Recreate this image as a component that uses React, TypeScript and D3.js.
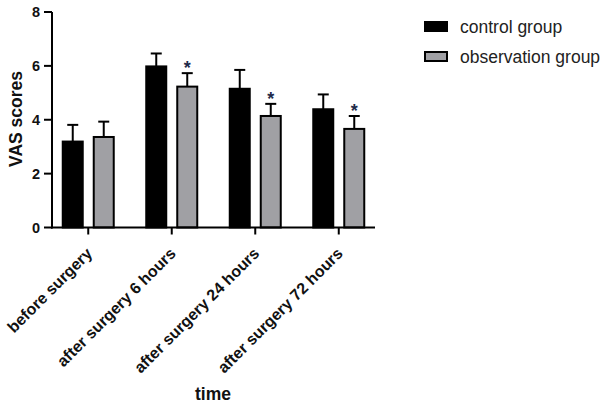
import React from "react";
import * as d3 from "d3";

const categories = ["before surgery", "after surgery 6 hours", "after surgery 24 hours", "after surgery 72 hours"];
const seriesNames = ["control group", "observation group"];
const controlMean = [3.19, 5.98, 5.15, 4.39];
const controlErr = [0.62, 0.48, 0.7, 0.55];
const obsMean = [3.36, 5.23, 4.14, 3.66];
const obsErr = [0.57, 0.5, 0.45, 0.48];
const significant = [false, true, true, true];
const yTicks = [0, 2, 4, 6, 8];

const W = 605, H = 407;
const FONT = "'Liberation Sans', Arial, sans-serif";

export default function App() {
  const x = d3.scalePoint<string>().domain(categories).range([52, 375]).padding(0.434);
  const y = d3.scaleLinear().domain([0, 8]).range([227.5, 12]);
  const bw = 20;
  const off = 15.5;
  const series = [
    { mean: controlMean, err: controlErr, fill: "#000000", dx: -off },
    { mean: obsMean, err: obsErr, fill: "#a0a0a4", dx: off },
  ];
  return (
    <svg width={W} height={H} style={{ position: "absolute", left: 0, top: 0 }} fontFamily={FONT}>
      <rect width={W} height={H} fill="#fff" />
      {series.map((s, si) =>
        categories.map((c, i) => {
          const cx = (x(c) as number) + s.dx;
          const top = y(s.mean[i]);
          const et = y(s.mean[i] + s.err[i]);
          return (
            <g key={si + "-" + i}>
              <line x1={cx} x2={cx} y1={top} y2={et} stroke="#000" strokeWidth={2} />
              <line x1={cx - 5.5} x2={cx + 5.5} y1={et} y2={et} stroke="#000" strokeWidth={2} />
              <rect x={cx - bw / 2} y={top} width={bw} height={y(0) - top} fill={s.fill} stroke="#000" strokeWidth={2} />
              {si === 1 && significant[i] && (
                <text x={cx} y={et + 1} textAnchor="middle" fontSize={18} fontWeight="bold" fill="#1e2a4a">*</text>
              )}
            </g>
          );
        })
      )}
      {/* y axis */}
      <line x1={52} x2={52} y1={y(8)} y2={y(0) + 1} stroke="#000" strokeWidth={2} />
      {yTicks.map((t) => (
        <g key={t}>
          <line x1={44} x2={52} y1={y(t)} y2={y(t)} stroke="#000" strokeWidth={2} />
          <text x={40} y={y(t)} dy="0.36em" textAnchor="end" fontSize={14.5} fontWeight="bold" fill="#111">{t}</text>
        </g>
      ))}
      {/* x axis */}
      <line x1={51} x2={375} y1={y(0)} y2={y(0)} stroke="#000" strokeWidth={2} />
      {categories.map((c) => {
        const cx = x(c) as number;
        return (
          <g key={c}>
            <line x1={cx} x2={cx} y1={y(0)} y2={y(0) + 7} stroke="#000" strokeWidth={2} />
            <text transform={`translate(${cx + 5},${y(0) + 27}) rotate(-45)`} textAnchor="end" fontSize={16} fontWeight="bold" fill="#111">{c}</text>
          </g>
        );
      })}
      <text transform={`translate(22,119) rotate(-90)`} textAnchor="middle" fontSize={17.5} fontWeight="bold" fill="#111">VAS scores</text>
      <text x={213} y={400} textAnchor="middle" fontSize={17.5} fontWeight="bold" fill="#111">time</text>
      {/* legend */}
      {seriesNames.map((n, i) => (
        <g key={n} transform={`translate(0,${i * 30})`}>
          <rect x={425} y={22} width={22} height={9} fill={i === 0 ? "#000" : "#a0a0a4"} stroke="#000" strokeWidth={2} />
          <text x={460} y={26.5} dy="0.36em" fontSize={17.5} fill="#222">{n}</text>
        </g>
      ))}
    </svg>
  );
}
